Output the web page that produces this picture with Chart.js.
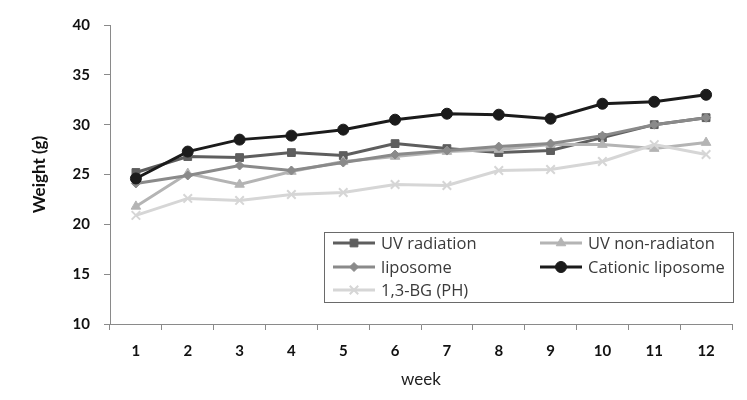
<!DOCTYPE html>
<html>
<head>
<meta charset="utf-8">
<script src="https://cdn.jsdelivr.net/npm/chart.js@4/dist/chart.umd.min.js"></script>
<style>
  html, body { margin: 0; padding: 0; background: #fff; }
  #wrap { width: 747px; height: 400px; position: relative; }
</style>
</head>
<body>
<div id="wrap"><canvas id="c" width="747" height="400"></canvas></div>
<script>
const weeks = ["1", "2", "3", "4", "5", "6", "7", "8", "9", "10", "11", "12"];
const uvRadiation = [25.2, 26.8, 26.7, 27.2, 26.9, 28.1, 27.6, 27.2, 27.4, 28.7, 30.0, 30.7];
const uvNonRadiation = [21.8, 25.1, 24.0, 25.3, 26.3, 26.8, 27.3, 27.5, 28.0, 28.0, 27.6, 28.2];
const liposome = [24.1, 24.9, 25.9, 25.4, 26.2, 27.0, 27.4, 27.8, 28.1, 28.9, 30.0, 30.7];
const cationic = [24.6, 27.3, 28.5, 28.9, 29.5, 30.5, 31.1, 31.0, 30.6, 32.1, 32.3, 33.0];
const bg13 = [20.9, 22.6, 22.4, 23.0, 23.2, 24.0, 23.9, 25.4, 25.5, 26.3, 28.0, 27.0];
const yTicks = [10, 15, 20, 25, 30, 35, 40];

const C = { uvr: "#5e5e5e", uvn: "#b4b4b4", lip: "#8a8a8a", cat: "#1b1b1b", bg: "#d6d6d6", axis: "#8a8a8a" };
const FONT = "Lato, 'Liberation Sans', sans-serif";

function ds(label, data, color, style, r, order) {
  return { label, data, borderColor: color, backgroundColor: color, pointStyle: style, pointRadius: r,
    pointBorderWidth: style === "crossRot" ? 2 : 1, borderWidth: 3, tension: 0, order };
}

// legend drawn inside the plot, two columns like the original
const boxLegend = {
  id: "boxLegend",
  afterDraw(chart) {
    const ctx = chart.ctx;
    ctx.save();
    ctx.strokeStyle = "#6a6a6a"; ctx.lineWidth = 1;
    ctx.strokeRect(324.5, 232.5, 409, 70);
    const cols = [[333, 375, 381], [540, 582, 588]];
    const rows = [243, 267, 290];
    ctx.textBaseline = "middle";
    chart.data.datasets.forEach((d, i) => {
      const [x0, x1, tx] = cols[i % 2];
      const y = rows[Math.floor(i / 2)];
      ctx.strokeStyle = d.borderColor; ctx.fillStyle = d.borderColor; ctx.lineWidth = d.borderWidth;
      ctx.beginPath(); ctx.moveTo(x0, y); ctx.lineTo(x1, y); ctx.stroke();
      ctx.lineWidth = d.pointBorderWidth;
      Chart.helpers.drawPoint(ctx, { pointStyle: d.pointStyle, radius: d.pointRadius, borderWidth: d.pointBorderWidth, rotation: 0 }, (x0 + x1) / 2, y);
      ctx.font = "16.5px 'Open Sans', sans-serif";
      ctx.fillStyle = "#3a3a3a";
      ctx.fillText(d.label, tx, y + 1);
    });
    ctx.restore();
  }
};

new Chart(document.getElementById("c"), {
  type: "line",
  data: {
    labels: weeks,
    datasets: [
      ds("UV radiation", uvRadiation, C.uvr, "rect", 5.5, 5),
      ds("UV non-radiaton", uvNonRadiation, C.uvn, "triangle", 5.5, 4),
      ds("liposome", liposome, C.lip, "rectRot", 4.5, 3),
      ds("Cationic liposome", cationic, C.cat, "circle", 5.5, 2),
      ds("1,3-BG (PH)", bg13, C.bg, "crossRot", 6, 1)
    ]
  },
  options: {
    responsive: false, animation: false,
    layout: { padding: { top: 25, right: 15, left: 0, bottom: 0 } },
    plugins: { legend: { display: false }, tooltip: { enabled: false } },
    elements: { point: { hoverRadius: 5 } },
    scales: {
      x: {
        offset: true,
        grid: { offset: true, drawOnChartArea: false, drawTicks: true, tickLength: 6, color: C.axis },
        border: { color: C.axis, width: 1 },
        ticks: { color: "#111", font: { family: FONT, size: 15, weight: "bold" }, padding: 12, maxRotation: 0 },
        title: { display: true, text: "week", color: "#222", font: { family: FONT, size: 17 }, padding: { top: 0, bottom: 10 } },
        afterFit(s) { s.height = 76; }
      },
      y: {
        min: 10, max: 40,
        afterBuildTicks(s) { s.ticks = yTicks.map(v => ({ value: v })); },
        grid: { drawOnChartArea: false, drawTicks: true, tickLength: 6, color: C.axis },
        border: { color: C.axis, width: 1 },
        ticks: { color: "#111", font: { family: FONT, size: 15, weight: "bold" }, padding: 14 },
        title: { display: true, text: "Weight (g)", color: "#111", font: { family: FONT, size: 17, weight: "bold" }, padding: { top: 29, bottom: 0 } },
        afterFit(s) { s.width = 110; }
      }
    }
  },
  plugins: [boxLegend]
});
</script>
</body>
</html>
